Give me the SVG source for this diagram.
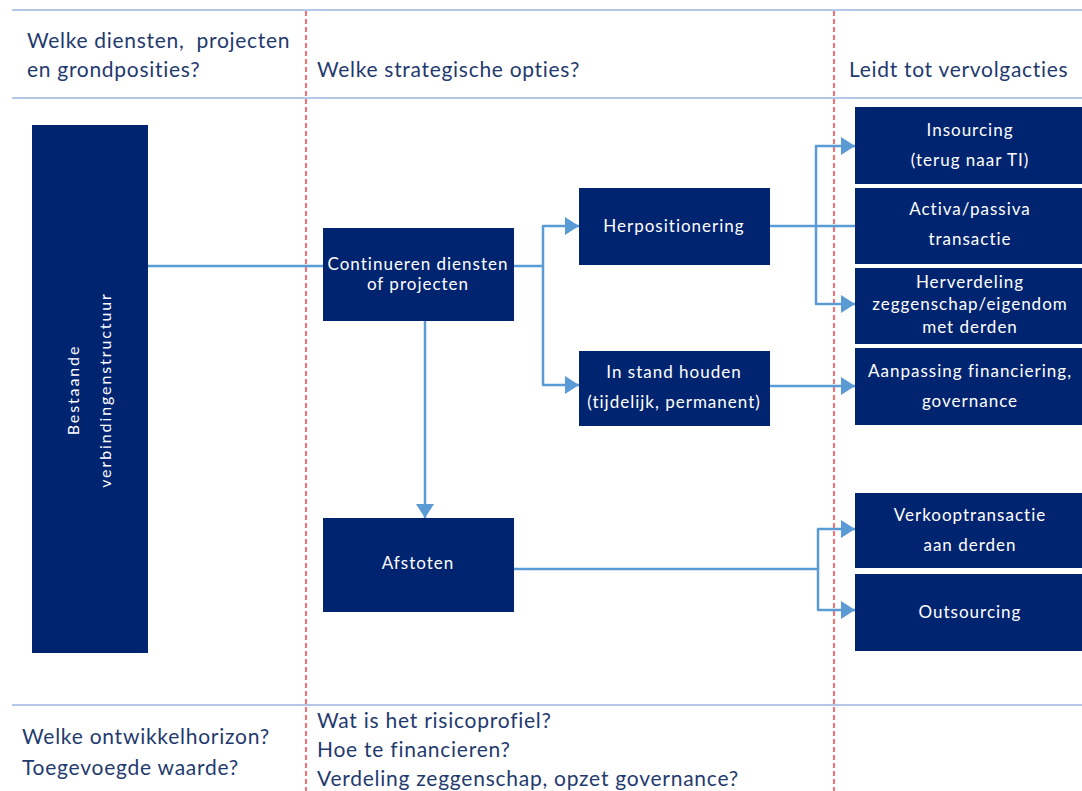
<svg xmlns="http://www.w3.org/2000/svg" width="1082" height="791" viewBox="0 0 1082 791">
  <style>
    .rule { stroke: #b4c7e7; stroke-width: 2; fill: none; }
    .divider { stroke: #ff4b4b; stroke-width: 1.6; stroke-dasharray: 5 3; fill: none; }
    .box { fill: #002470; }
    .head { font-family: Lato, "Open Sans", sans-serif; font-size: 21px; fill: #1f3a6e; letter-spacing: 0.7px; }
    .foot { font-family: Lato, "Open Sans", sans-serif; font-size: 21px; fill: #1f3a6e; letter-spacing: 0.75px; }
    .lbl { font-family: Lato, "Open Sans", sans-serif; font-size: 17px; fill: #ffffff; text-anchor: middle; letter-spacing: 1px; }
    .side { font-family: Lato, "Open Sans", sans-serif; font-size: 16px; fill: #ffffff; text-anchor: middle; letter-spacing: 1.9px; }
    .link { stroke: #5b9bd5; stroke-width: 2.5; fill: none; stroke-linejoin: round; }
  </style>
  <defs>
    <marker id="arrow" viewBox="0 0 14 18" refX="14" refY="9" markerWidth="14" markerHeight="18" markerUnits="userSpaceOnUse" orient="auto">
      <path d="M0,0 L14,9 L0,18 z" fill="#5b9bd5"/>
    </marker>
  </defs>

  <rect width="1082" height="791" fill="#ffffff"/>

  <!-- table rules and column dividers -->
  <g id="grid">
    <line class="rule" x1="12" y1="10" x2="1082" y2="10"/>
    <line class="rule" x1="12" y1="98" x2="1082" y2="98"/>
    <line class="rule" x1="12" y1="705" x2="1082" y2="705"/>
    <line class="divider" x1="306" y1="11" x2="306" y2="791"/>
    <line class="divider" x1="834" y1="11" x2="834" y2="791"/>
  </g>

  <!-- column headings -->
  <g id="headings">
    <text class="head" x="27" y="48" xml:space="preserve">Welke diensten,  projecten</text>
    <text class="head" x="27" y="77">en grondposities?</text>
    <text class="head" x="317" y="77">Welke strategische opties?</text>
    <text class="head" x="849" y="77">Leidt tot vervolgacties</text>
  </g>

  <!-- bottom questions -->
  <g id="questions">
    <text class="foot" x="22" y="744">Welke ontwikkelhorizon?</text>
    <text class="foot" x="22" y="775">Toegevoegde waarde?</text>
    <text class="foot" x="317" y="728">Wat is het risicoprofiel?</text>
    <text class="foot" x="317" y="757">Hoe te financieren?</text>
    <text class="foot" x="317" y="786">Verdeling zeggenschap, opzet governance?</text>
  </g>

  <!-- connectors -->
  <g id="connectors">
    <path class="link" d="M148,266 H323"/>
    <path class="link" d="M514,266 H543 V226 H579" marker-end="url(#arrow)"/>
    <path class="link" d="M543,266 V385 H579" marker-end="url(#arrow)"/>
    <path class="link" d="M425,321 V518" marker-end="url(#arrow)"/>
    <path class="link" d="M770,226 H855"/>
    <path class="link" d="M816,226 V146 H855" marker-end="url(#arrow)"/>
    <path class="link" d="M816,226 V304 H855" marker-end="url(#arrow)"/>
    <path class="link" d="M770,386 H855" marker-end="url(#arrow)"/>
    <path class="link" d="M514,569 H818 V529 H855" marker-end="url(#arrow)"/>
    <path class="link" d="M818,569 V610 H855" marker-end="url(#arrow)"/>
  </g>

  <!-- nodes -->
  <g id="bestaande">
    <rect class="box" x="32" y="125" width="116" height="528"/>
    <text class="side" transform="translate(79,390) rotate(-90)">Bestaande</text>
    <text class="side" transform="translate(111,390) rotate(-90)">verbindingenstructuur</text>
  </g>
  <g id="continueren">
    <rect class="box" x="323" y="228" width="191" height="93"/>
    <text class="lbl" x="418" y="270">Continueren diensten</text>
    <text class="lbl" x="418" y="290">of projecten</text>
  </g>
  <g id="herpositionering">
    <rect class="box" x="579" y="188" width="191" height="77"/>
    <text class="lbl" x="674" y="232">Herpositionering</text>
  </g>
  <g id="instandhouden">
    <rect class="box" x="579" y="351" width="191" height="75"/>
    <text class="lbl" x="674" y="378">In stand houden</text>
    <text class="lbl" x="674" y="408">(tijdelijk, permanent)</text>
  </g>
  <g id="afstoten">
    <rect class="box" x="323" y="518" width="191" height="94"/>
    <text class="lbl" x="418" y="569">Afstoten</text>
  </g>
  <g id="insourcing">
    <rect class="box" x="855" y="107" width="231" height="77"/>
    <text class="lbl" x="970" y="136">Insourcing</text>
    <text class="lbl" x="970" y="166">(terug naar TI)</text>
  </g>
  <g id="activapassiva">
    <rect class="box" x="855" y="188" width="231" height="76"/>
    <text class="lbl" x="970" y="215">Activa/passiva</text>
    <text class="lbl" x="970" y="245">transactie</text>
  </g>
  <g id="herverdeling">
    <rect class="box" x="855" y="268" width="231" height="76"/>
    <text class="lbl" x="970" y="288">Herverdeling</text>
    <text class="lbl" x="970" y="310">zeggenschap/eigendom</text>
    <text class="lbl" x="970" y="333">met derden</text>
  </g>
  <g id="aanpassing">
    <rect class="box" x="855" y="348" width="231" height="77"/>
    <text class="lbl" x="970" y="377">Aanpassing financiering,</text>
    <text class="lbl" x="970" y="407">governance</text>
  </g>
  <g id="verkoop">
    <rect class="box" x="855" y="493" width="231" height="75"/>
    <text class="lbl" x="970" y="521">Verkooptransactie</text>
    <text class="lbl" x="970" y="551">aan derden</text>
  </g>
  <g id="outsourcing">
    <rect class="box" x="855" y="574" width="231" height="77"/>
    <text class="lbl" x="970" y="618">Outsourcing</text>
  </g>
</svg>
